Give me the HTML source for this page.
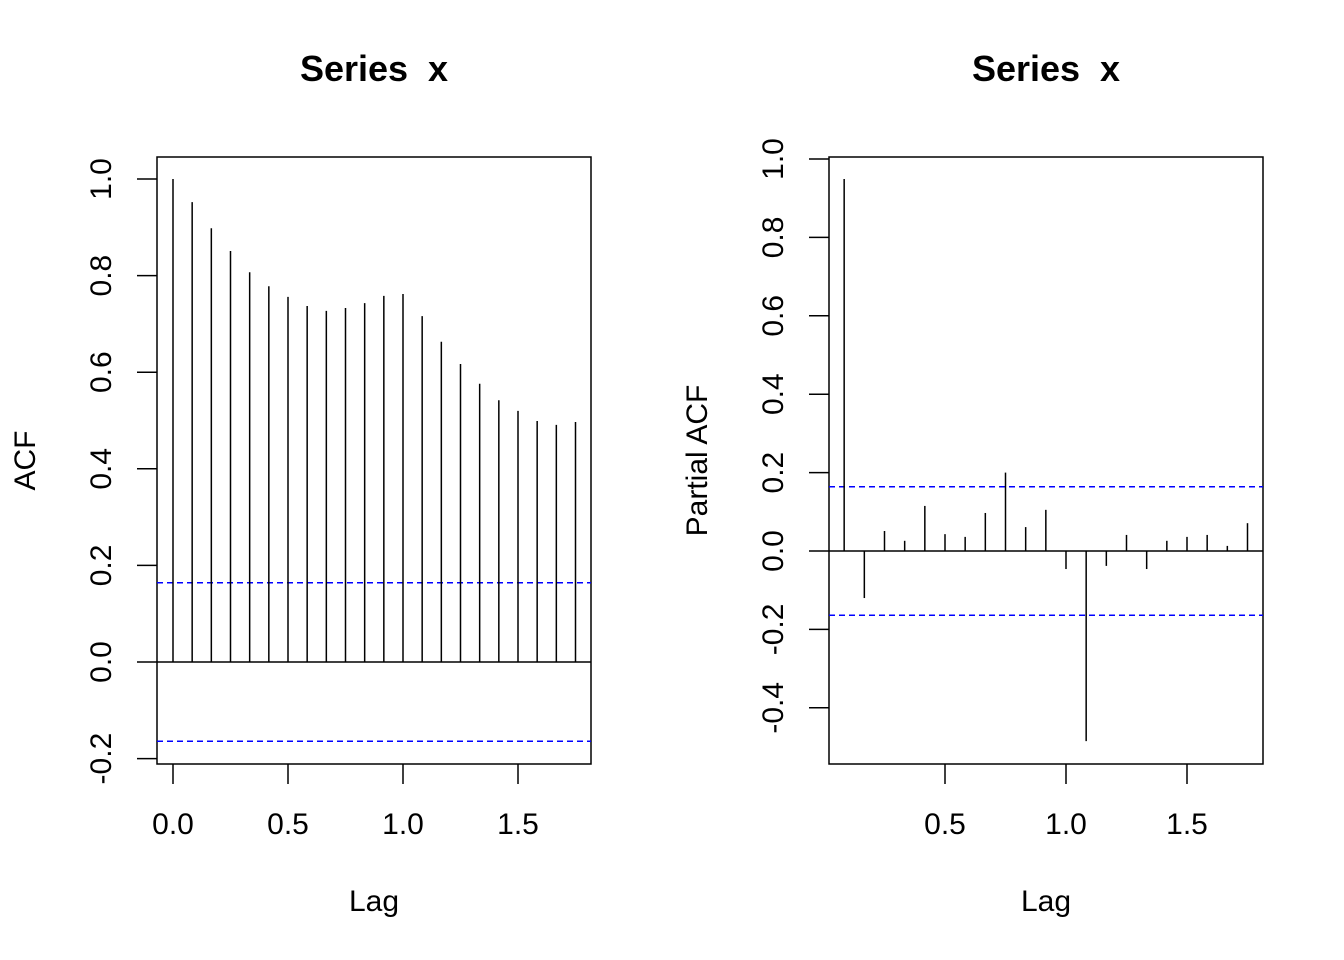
<!DOCTYPE html>
<html><head><meta charset="utf-8"><style>
html,body{margin:0;padding:0;background:#fff}
svg{display:block;font-family:"Liberation Sans",Arial,sans-serif}
</style></head><body>
<svg id="chart" width="1344" height="960" viewBox="0 0 1344 960" xmlns="http://www.w3.org/2000/svg"></svg>
<script>
const acfLags = [0,1,2,3,4,5,6,7,8,9,10,11,12,13,14,15,16,17,18,19,20,21];
const acfValues = [1.0,0.952,0.898,0.851,0.807,0.778,0.756,0.737,0.727,0.733,0.743,0.758,0.762,0.716,0.663,0.617,0.576,0.542,0.520,0.499,0.491,0.497];
const pacfLags = [1,2,3,4,5,6,7,8,9,10,11,12,13,14,15,16,17,18,19,20,21];
const pacfValues = [0.949,-0.120,0.051,0.026,0.115,0.043,0.036,0.097,0.200,0.061,0.105,-0.046,-0.485,-0.038,0.041,-0.046,0.026,0.036,0.041,0.013,0.071];
const confLimit = 0.164;
const lagFreq = 12;
const acfYTicks = ["-0.2","0.0","0.2","0.4","0.6","0.8","1.0"];
const pacfYTicks = ["-0.4","-0.2","0.0","0.2","0.4","0.6","0.8","1.0"];
const acfXTicks = ["0.0","0.5","1.0","1.5"];
const pacfXTicks = ["0.5","1.0","1.5"];

const svg = document.getElementById('chart');
const NS = 'http://www.w3.org/2000/svg';
function mk(tag, attrs, parent){
  const e = document.createElementNS(NS, tag);
  for (const k in attrs) e.setAttribute(k, attrs[k]);
  (parent||svg).appendChild(e);
  return e;
}

function panel(o){
  const g = mk('g', {});
  
  
  const x = v => o.x0 + (v - o.xmin) * o.xs;
  const y = v => o.y0 - (v - 0) * o.ys;
  const box = mk('rect', {x:o.L, y:o.T, width:o.R-o.L, height:o.B-o.T, fill:'none', stroke:'#000', 'stroke-width':1.5}, g);
  
  
  const t = mk('text', {x:(o.L+o.R)/2, y:81, 'text-anchor':'middle', 'font-size':36, 'font-weight':'bold'}, g);
  t.textContent = 'Series\u00a0\u00a0x';
  
  
  o.yt.forEach(s => {
    const v = parseFloat(s), yy = y(v);
    mk('line', {x1:o.L, x2:o.L-20, y1:yy, y2:yy, stroke:'#000', 'stroke-width':1.5}, g);
    const tx = mk('text', {x:0, y:0, 'text-anchor':'middle', 'font-size':30, transform:`translate(${o.L-46},${yy}) rotate(-90)`}, g);
    tx.textContent = s;
    
    
  });
  o.xt.forEach(s => {
    const xx = x(parseFloat(s));
    mk('line', {x1:xx, x2:xx, y1:o.B, y2:o.B+20, stroke:'#000', 'stroke-width':1.5}, g);
    const tx = mk('text', {x:xx, y:834, 'text-anchor':'middle', 'font-size':30}, g);
    tx.textContent = s;
    
    
  });
  const xl = mk('text', {x:(o.L+o.R)/2, y:911, 'text-anchor':'middle', 'font-size':30}, g);
  xl.textContent = 'Lag';
  
  
  const yl = mk('text', {x:0, y:0, 'text-anchor':'middle', 'font-size':30, transform:`translate(${o.L-122},${(o.T+o.B)/2}) rotate(-90)`}, g);
  yl.textContent = o.ylab;
  
  
  mk('line', {x1:o.L, x2:o.R, y1:y(0), y2:y(0), stroke:'#000', 'stroke-width':1.5}, g);
  [confLimit, -confLimit].forEach(c => {
    const l = mk('line', {x1:o.L, x2:o.R, y1:y(c), y2:y(c), stroke:'#0000ff', 'stroke-width':1.5, 'stroke-dasharray':'6,4'}, g);
    
    
  });
  o.lags.forEach((k,i) => {
    const xx = x(k/lagFreq);
    const b = mk('line', {x1:xx, x2:xx, y1:y(0), y2:y(o.vals[i]), stroke:'#000', 'stroke-width':1.5}, g);
    
    
  });
}

panel({name:'acf-panel', L:157, R:591, T:157, B:764, x0:173, xmin:0, xs:230, y0:662, ys:483,
  yt:acfYTicks, xt:acfXTicks, ylab:'ACF', lags:acfLags, vals:acfValues});
panel({name:'pacf-panel', L:829, R:1263, T:157, B:764, x0:1066, xmin:1, xs:242, y0:551, ys:392,
  yt:pacfYTicks, xt:pacfXTicks, ylab:'Partial ACF', lags:pacfLags, vals:pacfValues});
</script>
</body></html>
